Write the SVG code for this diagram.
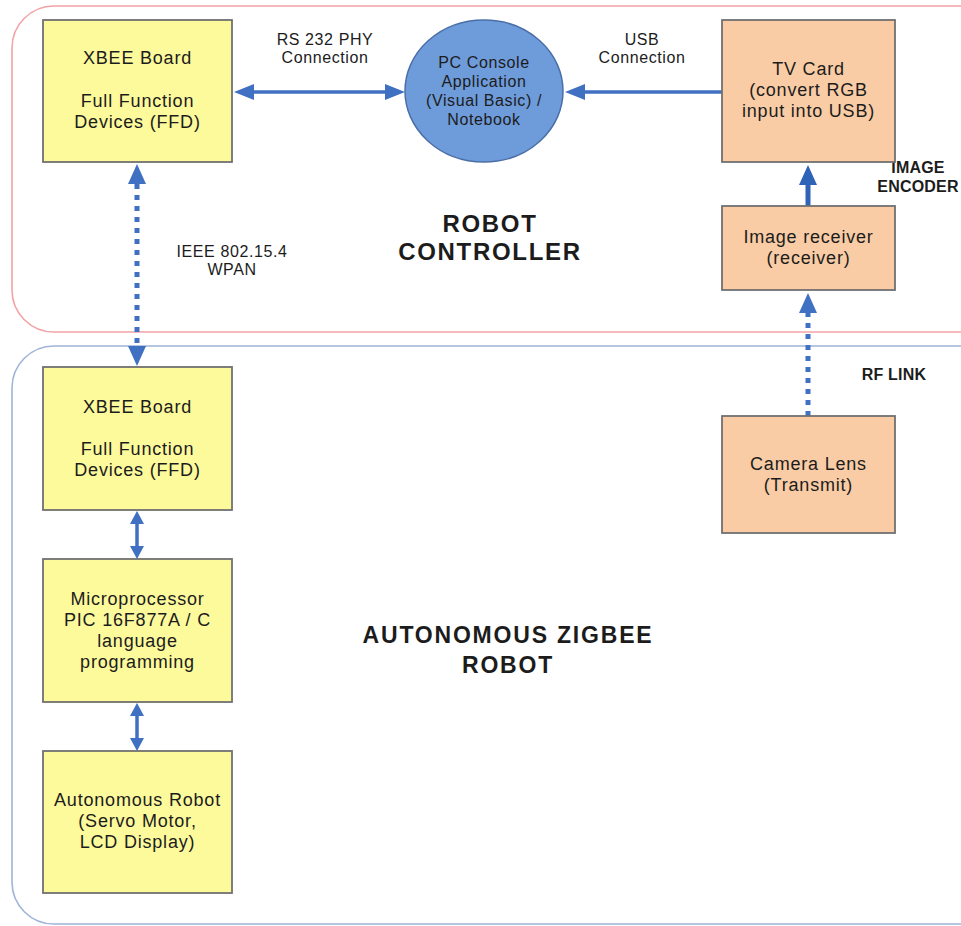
<svg xmlns="http://www.w3.org/2000/svg" width="961" height="926" viewBox="0 0 961 926">
<style>
.bg{fill:#ffffff}
.ctr-top{fill:none;stroke:#f2a3a8;stroke-width:1.6}
.ctr-bot{fill:none;stroke:#9fb4d8;stroke-width:1.6}
.yb{fill:#fdfa9c;stroke:#707070;stroke-width:1.8}
.pb{fill:#f9cca5;stroke:#707070;stroke-width:1.8}
.ell{fill:#6e9bda;stroke:#4a6fa8;stroke-width:1.5}
text{font-family:"Liberation Sans",Arial,sans-serif;fill:#1c1c1c}
.t{font-size:18px;letter-spacing:0.8px;text-anchor:middle}
.te{font-size:16px;letter-spacing:0.6px;text-anchor:middle}
.lb{font-size:16px;letter-spacing:0.6px;text-anchor:middle}
.lbb{font-size:16px;letter-spacing:0.2px;text-anchor:middle;font-weight:bold}
.title{font-size:24px;letter-spacing:1.7px;text-anchor:middle;font-weight:bold}
.title2{font-size:23px;letter-spacing:1.8px;text-anchor:middle;font-weight:bold}
.c{fill:none;stroke:#3f70c2;stroke-width:3.5}
.cd{fill:none;stroke:#3f70c2;stroke-width:5;stroke-dasharray:5 6}
.ct{fill:none;stroke:#2f63b8;stroke-width:5}
.ah{fill:#3f70c2}
</style>
<defs>
<marker id="a" viewBox="0 -9 20 18" refX="0" refY="0" markerWidth="20" markerHeight="18" markerUnits="userSpaceOnUse" orient="auto-start-reverse"><path class="ah" d="M0,-9 L20,0 L0,9 Z"/></marker>
<marker id="am" viewBox="0 -8 20 16" refX="0" refY="0" markerWidth="20" markerHeight="16" markerUnits="userSpaceOnUse" orient="auto-start-reverse"><path class="ah" d="M0,-8 L20,0 L0,8 Z"/></marker>
<marker id="as" viewBox="0 -7 13 14" refX="0" refY="0" markerWidth="13" markerHeight="14" markerUnits="userSpaceOnUse" orient="auto-start-reverse"><path class="ah" d="M0,-7 L13,0 L0,7 Z"/></marker>
<marker id="at" viewBox="0 -9 20 18" refX="0" refY="0" markerWidth="20" markerHeight="18" markerUnits="userSpaceOnUse" orient="auto-start-reverse"><path fill="#2f63b8" d="M0,-9 L20,0 L0,9 Z"/></marker>
</defs>
<rect class="bg" x="0" y="0" width="961" height="926"/>
<g id="robot-controller">
<rect class="ctr-top" x="12" y="6" width="990" height="326" rx="42" ry="42"/>
<text class="title" x="490" y="232">ROBOT</text>
<text class="title" x="490" y="260">CONTROLLER</text>
</g>
<g id="autonomous-robot">
<rect class="ctr-bot" x="12" y="346" width="990" height="578" rx="42" ry="42"/>
<text class="title2" x="508" y="643">AUTONOMOUS ZIGBEE</text>
<text class="title2" x="508" y="673">ROBOT</text>
</g>
<g id="connectors">
<line class="c" x1="254" y1="92" x2="385" y2="92" marker-start="url(#am)" marker-end="url(#am)"/>
<line class="c" x1="722" y1="92" x2="585" y2="92" marker-end="url(#am)"/>
<line class="cd" x1="137" y1="184" x2="137" y2="346" marker-start="url(#a)" marker-end="url(#a)"/>
<line class="c" x1="137" y1="524" x2="137" y2="546" marker-start="url(#as)" marker-end="url(#as)"/>
<line class="c" x1="137" y1="716" x2="137" y2="738" marker-start="url(#as)" marker-end="url(#as)"/>
<line class="ct" x1="808" y1="206" x2="808" y2="185" marker-end="url(#at)"/>
<line class="cd" x1="808" y1="416" x2="808" y2="313" marker-end="url(#a)"/>
<text class="lb" x="325" y="45">RS 232 PHY</text>
<text class="lb" x="325" y="63">Connection</text>
<text class="lb" x="642" y="45">USB</text>
<text class="lb" x="642" y="63">Connection</text>
<text class="lb" x="232" y="257">IEEE 802.15.4</text>
<text class="lb" x="232" y="275">WPAN</text>
<text class="lbb" x="918" y="173">IMAGE</text>
<text class="lbb" x="918" y="192">ENCODER</text>
<text class="lbb" x="894" y="380">RF LINK</text>
</g>
<g id="xbee-top">
<rect class="yb" x="43" y="20" width="189" height="142"/>
<text class="t" x="137.5" y="64">XBEE Board</text>
<text class="t" x="137.5" y="107">Full Function</text>
<text class="t" x="137.5" y="128">Devices (FFD)</text>
</g>
<g id="pc-console">
<ellipse class="ell" cx="484" cy="91" rx="79" ry="71"/>
<text class="te" x="484" y="68">PC Console</text>
<text class="te" x="484" y="87">Application</text>
<text class="te" x="484" y="106">(Visual Basic) /</text>
<text class="te" x="484" y="125">Notebook</text>
</g>
<g id="tv-card">
<rect class="pb" x="722" y="20" width="173" height="142"/>
<text class="t" x="808.5" y="75">TV Card</text>
<text class="t" x="808.5" y="96">(convert RGB</text>
<text class="t" x="808.5" y="117">input into USB)</text>
</g>
<g id="image-receiver">
<rect class="pb" x="722" y="206" width="173" height="84"/>
<text class="t" x="808.5" y="243">Image receiver</text>
<text class="t" x="808.5" y="264">(receiver)</text>
</g>
<g id="camera-lens">
<rect class="pb" x="722" y="416" width="173" height="117"/>
<text class="t" x="808.5" y="470">Camera Lens</text>
<text class="t" x="808.5" y="491">(Transmit)</text>
</g>
<g id="xbee-bottom">
<rect class="yb" x="43" y="367" width="189" height="143"/>
<text class="t" x="137.5" y="413">XBEE Board</text>
<text class="t" x="137.5" y="455">Full Function</text>
<text class="t" x="137.5" y="476">Devices (FFD)</text>
</g>
<g id="microprocessor">
<rect class="yb" x="43" y="559" width="189" height="143"/>
<text class="t" x="137.5" y="605">Microprocessor</text>
<text class="t" x="137.5" y="626">PIC 16F877A / C</text>
<text class="t" x="137.5" y="647">language</text>
<text class="t" x="137.5" y="668">programming</text>
</g>
<g id="autonomous-robot-box">
<rect class="yb" x="43" y="751" width="189" height="142"/>
<text class="t" x="137.5" y="806">Autonomous Robot</text>
<text class="t" x="137.5" y="827">(Servo Motor,</text>
<text class="t" x="137.5" y="848">LCD Display)</text>
</g>
</svg>
